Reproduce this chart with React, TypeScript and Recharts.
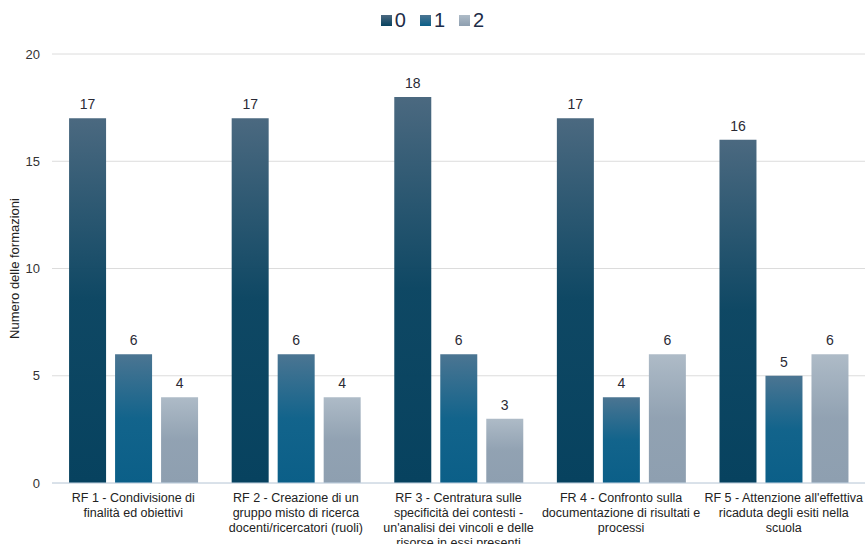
import { BarChart, Bar, XAxis, YAxis, CartesianGrid, Legend, LabelList } from "recharts";

const categories = [
  "RF 1 - Condivisione di\nfinalità ed obiettivi",
  "RF 2 - Creazione di un\ngruppo misto di ricerca\ndocenti/ricercatori (ruoli)",
  "RF 3 - Centratura sulle\nspecificità dei contesti -\nun'analisi dei vincoli e delle\nrisorse in essi presenti",
  "FR 4 - Confronto sulla\ndocumentazione di risultati e\nprocessi",
  "RF 5 - Attenzione all'effettiva\nricaduta degli esiti nella\nscuola",
];
const series0 = [17, 17, 18, 17, 16];
const series1 = [6, 6, 6, 4, 5];
const series2 = [4, 4, 3, 6, 6];
const yTicks = [0, 5, 10, 15, 20];

const SERIES = [
  { key: "s0", name: "0", top: "#4b6980", bottom: "#07425f" },
  { key: "s1", name: "1", top: "#4b7592", bottom: "#0b5f88" },
  { key: "s2", name: "2", top: "#aebbc7", bottom: "#8e9fb0" },
];

const data = categories.map((c, i) => ({
  name: c,
  s0: series0[i],
  s1: series1[i],
  s2: series2[i],
}));

const FONT = "'Liberation Sans', Arial, sans-serif";

function WrappedTick(props: any) {
  const { x, y, payload } = props;
  const lines = String(payload.value).split("\n");
  return (
    <text x={x} y={y} textAnchor="middle" fill="#222" fontSize={12.5} fontFamily={FONT}>
      {lines.map((l, i) => (
        <tspan key={i} x={x} dy={i === 0 ? 11 : 15}>
          {l}
        </tspan>
      ))}
    </text>
  );
}

function LegendContent() {
  return (
    <div
      style={{
        display: "flex",
        justifyContent: "center",
        alignItems: "center",
        gap: 14,
        fontFamily: FONT,
        fontSize: 20,
        color: "#1d2c48",
      }}
    >
      {SERIES.map((s) => (
        <span key={s.key} style={{ display: "flex", alignItems: "center" }}>
          <span
            style={{
              display: "inline-block",
              width: 11,
              height: 11,
              marginRight: 3,
              background: `linear-gradient(${s.top}, ${s.bottom})`,
            }}
          />
          {s.name}
        </span>
      ))}
    </div>
  );
}

export default function App() {
  return (
    <div style={{ position: "absolute", left: 0, top: 0, background: "#fff" }}>
      <BarChart
        width={865}
        height={544}
        data={data}
        margin={{ top: 14, right: 0, left: 0, bottom: 0 }}
        barCategoryGap="10.5%"
        barGap={9}
      >
        <defs>
          {SERIES.map((s) => (
            <linearGradient key={s.key} id={`grad-${s.key}`} x1="0" y1="0" x2="0" y2="1">
              <stop offset="0%" stopColor={s.top} />
              <stop offset="50%" stopColor={s.bottom} stopOpacity={0.97} />
              <stop offset="100%" stopColor={s.bottom} />
            </linearGradient>
          ))}
        </defs>
        <Legend
          verticalAlign="top"
          content={<LegendContent />}
          wrapperStyle={{ top: 9, height: 40 }}
        />
        <CartesianGrid vertical={false} stroke="#dcdcdc" />
        <XAxis
          dataKey="name"
          interval={0}
          tick={<WrappedTick />}
          tickLine={false}
          axisLine={{ stroke: "#c6d6e6" }}
          height={61}
        />
        <YAxis
          domain={[0, 20]}
          ticks={yTicks}
          width={52}
          tickLine={false}
          axisLine={false}
          tickMargin={6}
          tick={{ fill: "#333", fontSize: 13, fontFamily: FONT }}
          label={{
            value: "Numero delle formazioni",
            angle: -90,
            position: "insideLeft",
            offset: 14,
            style: { textAnchor: "middle", fill: "#222", fontSize: 13, fontFamily: FONT },
          }}
        />
        {SERIES.map((s) => (
          <Bar
            key={s.key}
            dataKey={s.key}
            name={s.name}
            fill={`url(#grad-${s.key})`}
            isAnimationActive={false}
          >
            <LabelList
              dataKey={s.key}
              position="top"
              offset={9}
              fill="#2a2a35"
              fontSize={14}
              fontFamily={FONT}
            />
          </Bar>
        ))}
      </BarChart>
    </div>
  );
}
